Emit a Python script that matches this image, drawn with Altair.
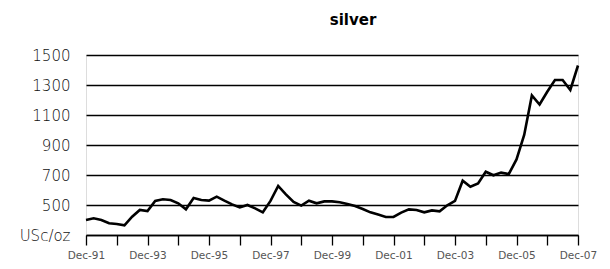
import json
import altair as alt
import pandas as pd

# Quarterly silver price, USc/oz, Dec-91 .. Dec-07
quarters = []
for yr in range(1991, 2008):
    for m in ["Mar", "Jun", "Sep", "Dec"]:
        if yr == 1991 and m != "Dec":
            continue
        quarters.append(f"{m}-{str(yr)[2:]}")

prices = [
    400,
    411, 400, 378, 373,
    364, 422, 467, 460,
    527, 538, 533, 511,
    471, 547, 533, 529,
    556, 529, 504, 484,
    500, 478, 451, 527,
    627, 571, 520, 496,
    529, 511, 524, 524,
    518, 507, 493, 473,
    451, 436, 420, 420,
    449, 471, 467, 451,
    464, 458, 498, 527,
    662, 622, 644, 722,
    698, 716, 707, 804,
    967, 1230, 1170, 1255,
    1333, 1333, 1267, 1430,
]

x_tick_labels = ["Dec-91", "", "Dec-93", "", "Dec-95", "", "Dec-97", "", "Dec-99", "",
                 "Dec-01", "", "Dec-03", "", "Dec-05", "", "Dec-07"]
y_ticks = [300, 500, 700, 900, 1100, 1300, 1500]
y_tick_labels = ["USc/oz", "500", "700", "900", "1100", "1300", "1500"]
title_text = ["silver"]

df = pd.DataFrame({"q": list(range(len(prices))), "quarter": quarters, "price": prices})

x_expr = f"{json.dumps(x_tick_labels)}[round(datum.value/4)]"
y_expr = f"{json.dumps(y_tick_labels)}[round((datum.value-300)/200)]"

FONT = "DejaVu Sans"

line = alt.Chart(df).mark_line(color="black", strokeWidth=2.6, strokeJoin="miter").encode(
    x=alt.X("q:Q", scale=alt.Scale(domain=[0, 64], nice=False, zero=False),
            axis=alt.Axis(values=list(range(0, 65, 4)), labelExpr=x_expr, title=None,
                          grid=False, domainColor="black", domainWidth=1.3,
                          tickColor="black", tickWidth=1.3, tickSize=10,
                          labelFont=FONT, labelFontSize=10.5, labelColor="#555555",
                          labelFontWeight="normal",
                          labelPadding=5, labelFlush=False, labelOverlap=False)),
    y=alt.Y("price:Q", scale=alt.Scale(domain=[300, 1500], nice=False, zero=False),
            axis=alt.Axis(values=y_ticks, labelExpr=y_expr, title=None,
                          grid=True, gridColor="black", gridWidth=1.3, gridOpacity=1,
                          domain=False, ticks=False,
                          labelFont=FONT, labelFontSize=15, labelColor="#111111",
                          labelPadding=16, labelFontWeight=200)),
)

title = alt.Chart(pd.DataFrame({"t": title_text})).mark_text(
    font=FONT, fontSize=15, fontWeight="bold", color="black",
    align="center", baseline="alphabetic",
).encode(text="t:N", x=alt.value(267), y=alt.value(-30))

chart = alt.layer(line, title).properties(
    width=492, height=180,
    autosize=alt.AutoSizeParams(type="none"),
    padding={"left": 78, "top": 47, "right": 24, "bottom": 27},
).configure_view(stroke=None).configure(background="white")

chart.save("out.html", embed_options={"renderer": "svg", "actions": False})
